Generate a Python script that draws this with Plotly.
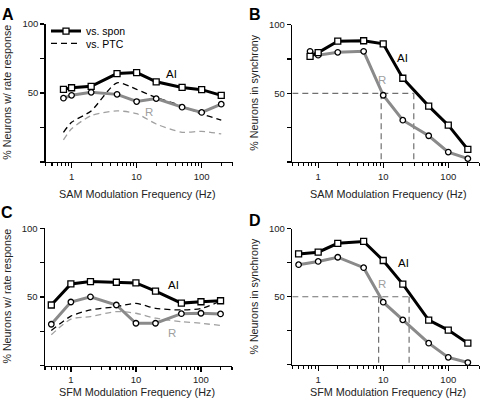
import plotly.graph_objects as go
import math

# ---------------- data ----------------
freq_sam = [0.75, 1, 2, 5, 10, 20, 50, 100, 200]
freq_sfm = [0.5, 1, 2, 5, 10, 20, 50, 100, 200]

# Panel A: % neurons with rate response (SAM)
A_ai_spon = [52.6, 53.8, 54.8, 64.1, 64.8, 58.1, 54.0, 52.4, 48.3]
A_r_spon = [46.2, 48.3, 50.5, 49.0, 43.8, 45.9, 39.7, 35.9, 41.9]
A_ai_ptc = [21.5, 28.7, 37.0, 57.4, 52.6, 46.7, 40.7, 34.7, 30.4]
A_r_ptc = [16.0, 24.0, 33.5, 37.0, 35.0, 27.5, 21.5, 22.2, 20.3]

# Panel B: % neurons in synchrony (SAM)
B_ai = [77.0, 79.7, 88.0, 88.3, 86.1, 61.0, 40.7, 26.8, 9.1]
B_r = [80.6, 77.8, 79.9, 80.6, 48.6, 30.4, 19.1, 7.2, 2.4]
B_cross = [9.3, 29.5]   # 50% crossing frequencies (R, AI)

# Panel C: % neurons with rate response (SFM)
C_ai_spon = [44.1, 59.5, 61.2, 60.7, 60.2, 54.2, 45.5, 46.5, 47.2]
C_r_spon = [30.1, 46.3, 50.1, 44.1, 30.8, 30.8, 37.8, 38.1, 37.6]
C_ai_ptc = [25.5, 36.0, 40.5, 42.9, 45.3, 41.7, 40.5, 41.5, 47.0]
C_r_ptc = [22.4, 33.8, 35.7, 39.3, 38.1, 34.5, 32.0, 30.8, 29.2]

# Panel D: % neurons in synchrony (SFM)
D_ai = [81.4, 82.7, 89.2, 90.6, 76.6, 59.3, 32.8, 25.5, 15.9]
D_r = [73.5, 75.9, 79.0, 71.3, 46.0, 33.0, 15.9, 5.5, 1.7]
D_cross = [8.5, 25.0]

x_major = [1, 10, 100]
x_major_text = ["1", "10", "100"]
x_minor = [0.4, 0.5, 0.6, 0.7, 0.8, 0.9, 2, 3, 4, 5, 6, 7, 8, 9,
           20, 30, 40, 50, 60, 70, 80, 90, 200, 300]
y_ticks = [0, 25, 50, 75, 100]
y_ticktext = ["", "", "50", "", "100"]

# ---------------- style ----------------
W, H = 480, 401
FONT = "Liberation Sans, Arial, Helvetica, sans-serif"
BLACK = "#000000"
GRAY = "#8a8a8a"
LGRAY = "#a0a0a0"
REFC = "#707070"

fig = go.Figure()

panels = {
    "A": dict(xa="x", ya="y", px=(45.7, 232.7), py=(18.3, 158.3)),
    "B": dict(xa="x2", ya="y2", px=(292.3, 479.3), py=(19.0, 158.3)),
    "C": dict(xa="x3", ya="y3", px=(45.0, 232.0), py=(225.7, 365.0)),
    "D": dict(xa="x4", ya="y4", px=(292.3, 479.3), py=(226.0, 364.3)),
}


def solid(xs, ys, color, symbol, p, name=None, legend=None, show=False):
    fig.add_trace(go.Scatter(
        x=xs, y=ys, mode="lines+markers", xaxis=p["xa"], yaxis=p["ya"],
        line=dict(color=color, width=3),
        marker=dict(symbol=symbol, size=6 if symbol == "square" else 5.5,
                    color="white", line=dict(color=BLACK, width=1.3)),
        name=name, showlegend=show, legend=legend, cliponaxis=False))


def dashed(xs, ys, color, p, name=None, legend=None, show=False):
    fig.add_trace(go.Scatter(
        x=xs, y=ys, mode="lines", xaxis=p["xa"], yaxis=p["ya"],
        line=dict(color=color, width=1.3, dash="6px,4px", shape="spline",
                  smoothing=0.7),
        name=name, showlegend=show, legend=legend))


def crossing(cross, p):
    f1, f2 = cross
    fig.add_trace(go.Scatter(
        x=[0.4, f2, None, f1, f1, None, f2, f2],
        y=[50, 50, None, 50, 0, None, 50, 0],
        mode="lines", xaxis=p["xa"], yaxis=p["ya"],
        line=dict(color=REFC, width=1.2, dash="6px,4px"),
        showlegend=False, hoverinfo="skip"))


# A
pA = panels["A"]
dashed(freq_sam, A_r_ptc, LGRAY, pA)
dashed(freq_sam, A_ai_ptc, BLACK, pA, name="vs. PTC", legend="legend2", show=True)
solid(freq_sam, A_r_spon, GRAY, "circle", pA)
solid(freq_sam, A_ai_spon, BLACK, "square", pA, name="vs. spon", legend="legend", show=True)

# B
pB = panels["B"]
crossing(B_cross, pB)
solid(freq_sam, B_r, GRAY, "circle", pB)
solid(freq_sam, B_ai, BLACK, "square", pB)

# C
pC = panels["C"]
dashed(freq_sfm, C_r_ptc, LGRAY, pC)
dashed(freq_sfm, C_ai_ptc, BLACK, pC)
solid(freq_sfm, C_r_spon, GRAY, "circle", pC)
solid(freq_sfm, C_ai_spon, BLACK, "square", pC)

# D
pD = panels["D"]
crossing(D_cross, pD)
solid(freq_sfm, D_r, GRAY, "circle", pD)
solid(freq_sfm, D_ai, BLACK, "square", pD)

layout = dict(
    width=W, height=H, margin=dict(l=0, r=0, t=0, b=0),
    paper_bgcolor="white", plot_bgcolor="white", hovermode=False,
    font=dict(family=FONT, color=BLACK, size=10),
    legend=dict(x=46 / W, y=1 - 25.5 / H, xanchor="left", yanchor="middle",
                bgcolor="rgba(0,0,0,0)", font=dict(size=10.5), itemwidth=30,
                borderwidth=0),
    legend2=dict(x=46 / W, y=1 - 38 / H, xanchor="left", yanchor="middle",
                 bgcolor="rgba(0,0,0,0)", font=dict(size=10.5), itemwidth=30,
                 borderwidth=0),
)

annotations = []
for i, (key, p) in enumerate(panels.items()):
    sfx = "" if i == 0 else str(i + 1)
    x0, x1 = p["px"]
    y0, y1 = p["py"]
    layout["xaxis" + sfx] = dict(
        type="log", range=[math.log10(0.4), math.log10(300)],
        domain=[x0 / W, x1 / W], anchor="y" + sfx,
        showline=True, linecolor=BLACK, linewidth=1.5, showgrid=False,
        zeroline=False, ticks="outside", ticklen=5, tickwidth=1.3,
        tickcolor=BLACK, tickvals=x_major, ticktext=x_major_text,
        tickfont=dict(size=9.5, color="#222"),
        minor=dict(tickvals=x_minor, ticks="outside", ticklen=3,
                   tickwidth=1.1, tickcolor=BLACK, showgrid=False),
    )
    layout["yaxis" + sfx] = dict(
        range=[0, 100], domain=[1 - y1 / H, 1 - y0 / H], anchor="x" + sfx,
        showline=True, linecolor=BLACK, linewidth=1.5, showgrid=False,
        zeroline=False, ticks="outside", ticklen=4, tickwidth=1.3,
        tickcolor=BLACK, tickvals=y_ticks, ticktext=y_ticktext,
        tickfont=dict(size=9.5, color="#222"),
    )


def ann(text, cx, cy, size, color="#222", angle=0, bold=False):
    annotations.append(dict(text=("<b>%s</b>" % text) if bold else text,
                            x=cx / W, y=1 - cy / H, xref="paper", yref="paper",
                            xanchor="center", yanchor="middle", showarrow=False,
                            textangle=angle, font=dict(size=size, color=color)))


# Panel letters
for letter, (lx, ly) in {"A": (8, 9), "B": (255, 9), "C": (7, 210), "D": (255, 217.5)}.items():
    ann(letter, lx, ly, 16, BLACK, bold=True)

# Axis titles
for xt, cx, cy in [("SAM Modulation Frequency (Hz)", 137, 190.5),
                   ("SAM Modulation Frequency (Hz)", 388, 190.5),
                   ("SFM Modulation Frequency (Hz)", 137, 392),
                   ("SFM Modulation Frequency (Hz)", 388, 391.5)]:
    ann(xt, cx, cy, 10.8)
for yt, cx, cy in [("% Neurons w/ rate response", 7, 88),
                   ("% Neurons in synchrony", 254, 88),
                   ("% Neurons w/ rate response", 7, 295),
                   ("% Neurons in synchrony", 254, 295)]:
    ann(yt, cx, cy, 10.7, angle=-90)

# Series labels
for txt, xr, yr, xv, yv, col in [
        ("AI", "x", "y", 34.7, 63.8, BLACK), ("R", "x", "y", 15.5, 36.3, LGRAY),
        ("AI", "x2", "y2", 20, 75.9, BLACK), ("R", "x2", "y2", 9.6, 59.7, LGRAY),
        ("AI", "x3", "y3", 37.2, 58.6, BLACK), ("R", "x3", "y3", 35.5, 23.7, LGRAY),
        ("AI", "x4", "y4", 20.2, 74.7, BLACK), ("R", "x4", "y4", 9.6, 59.7, LGRAY)]:
    annotations.append(dict(text=txt, x=math.log10(xv), y=yv, xref=xr, yref=yr,
                            xanchor="center", yanchor="middle",
                            showarrow=False, font=dict(size=11.5, color=col)))

layout["annotations"] = annotations
fig.update_layout(**layout)
fig.write_html("out.html", config={"displayModeBar": False, "staticPlot": True},
               post_script="document.body.style.margin='0';"
                           "document.body.style.overflow='hidden';")
